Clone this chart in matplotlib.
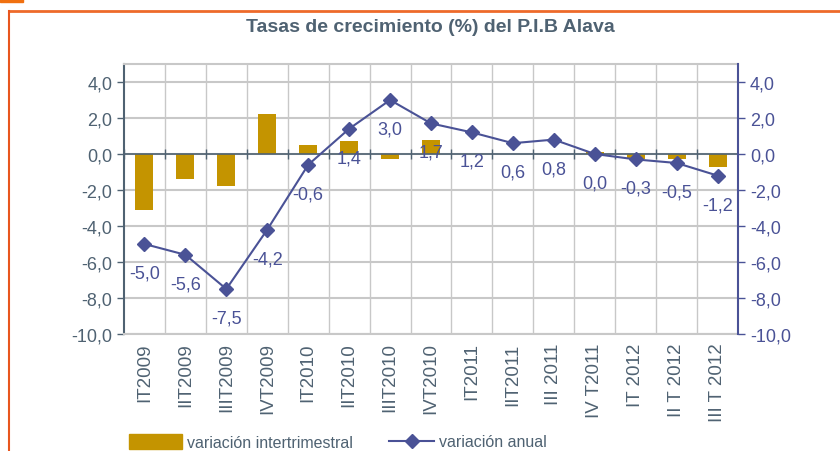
import matplotlib.pyplot as plt
import numpy as np
from matplotlib.lines import Line2D
from matplotlib.patches import Patch

quarters = ['IT2009', 'IIT2009', 'IIIT2009', 'IVT2009', 'IT2010', 'IIT2010',
            'IIIT2010', 'IVT2010', 'IT2011', 'IIT2011', 'III 2011', 'IV T2011',
            'IT 2012', 'II T 2012', 'III T 2012']
intertrim = [-3.1, -1.4, -1.8, 2.2, 0.5, 0.7, -0.3, 0.8, 0.0, 0.0, 0.0, 0.1,
             -0.3, -0.3, -0.7]
anual = [-5.0, -5.6, -7.5, -4.2, -0.6, 1.4, 3.0, 1.7, 1.2, 0.6, 0.8, 0.0,
         -0.3, -0.5, -1.2]

bar_col = '#C49400'
line_col = '#4A5296'
slate = '#4F6272'
grid_col = '#C8C8C8'

plt.rcParams['font.family'] = ['Liberation Sans', 'DejaVu Sans']

fig = plt.figure(figsize=(8.4, 4.52), dpi=100)
ax = fig.add_axes([124 / 840, 1 - 335 / 452, 614 / 840, 270 / 452])
x = np.arange(len(quarters))

ax.bar(x, intertrim, width=0.44, color=bar_col, zorder=3)
ax.set_xlim(-0.5, len(quarters) - 0.5)
ax.set_ylim(-10, 5)
yt = np.arange(-10, 5, 2)
ax.set_yticks(yt)
ax.set_yticklabels([f'{v:.1f}'.replace('.', ',') for v in yt], fontsize=13, color=slate)
ax.set_xticks(x)
ax.set_xticklabels(quarters, rotation=90, fontsize=13.5, color=slate, va='top')
ax.tick_params(axis='x', length=0, pad=6)
ax.tick_params(axis='y', length=5, color=slate, width=1)

# grid
ax.set_xticks(np.arange(0.5, len(quarters) - 1, 1), minor=True)
ax.grid(True, which='minor', axis='x', color=grid_col, lw=1, zorder=0)
ax.grid(True, which='major', axis='y', color=grid_col, lw=1.5, zorder=0)
ax.tick_params(axis='x', which='minor', length=0)

for s in ['top', 'bottom']:
    ax.spines[s].set_color(grid_col)
    ax.spines[s].set_linewidth(1.5)
ax.spines['left'].set_color(slate)
ax.spines['left'].set_linewidth(1.5)
ax.spines['right'].set_visible(False)

# zero axis with category ticks
ax.axhline(0, color=slate, lw=1.2, zorder=4)
ax.vlines(np.arange(-0.5, len(quarters), 1), -0.3, 0.3, color=slate, lw=1, zorder=4)

ax2 = ax.twinx()
ax2.set_ylim(-10, 5)
ax2.set_yticks(yt)
ax2.set_yticklabels([f'{v:.1f}'.replace('.', ',') for v in yt], fontsize=13, color=line_col)
ax2.tick_params(axis='y', length=5, color=line_col, width=1)
for s in ['top', 'bottom', 'left']:
    ax2.spines[s].set_visible(False)
ax2.spines['right'].set_color(line_col)
ax2.spines['right'].set_linewidth(1.5)

ax2.plot(x, anual, color=line_col, lw=1.5, marker='D', ms=7, zorder=5)
for xi, v in zip(x, anual):
    ax2.annotate(f'{v:.1f}'.replace('.', ','), (xi, v), xytext=(0, -29),
                 textcoords='offset pixels',
                 ha='center', va='center', fontsize=13, color=line_col)

fig.text(0.512, 1 - 28 / 452, 'Tasas de crecimiento (%) del P.I.B Alava',
         ha='center', va='center', fontsize=14, fontweight='bold', color=slate)

fig.legend([Patch(color=bar_col)], ['variación intertrimestral'],
           loc='center left', bbox_to_anchor=(115 / 840, 1 - 443 / 452),
           frameon=False, fontsize=11.5, handlelength=3.3, handleheight=1.1,
           handletextpad=0.3, labelcolor=slate)
fig.legend([Line2D([], [], color=line_col, marker='D', ms=7, lw=1.5)], ['variación anual'],
           loc='center left', bbox_to_anchor=(375 / 840, 1 - 443 / 452),
           frameon=False, fontsize=11.5, handlelength=2.8, handletextpad=0.3,
           labelcolor=slate)

# orange frame
fig.add_artist(Line2D([9 / 840, 1], [1 - 12 / 452] * 2, color='#EE6A2A', lw=2))
fig.add_artist(Line2D([9 / 840] * 2, [0, 1 - 12 / 452], color='#E8561E', lw=1.5))
fig.add_artist(plt.Rectangle((0, 1 - 3 / 452), 23 / 840, 3 / 452, color='#F07010',
                             transform=fig.transFigure))

fig.savefig('out.png', dpi=100)
